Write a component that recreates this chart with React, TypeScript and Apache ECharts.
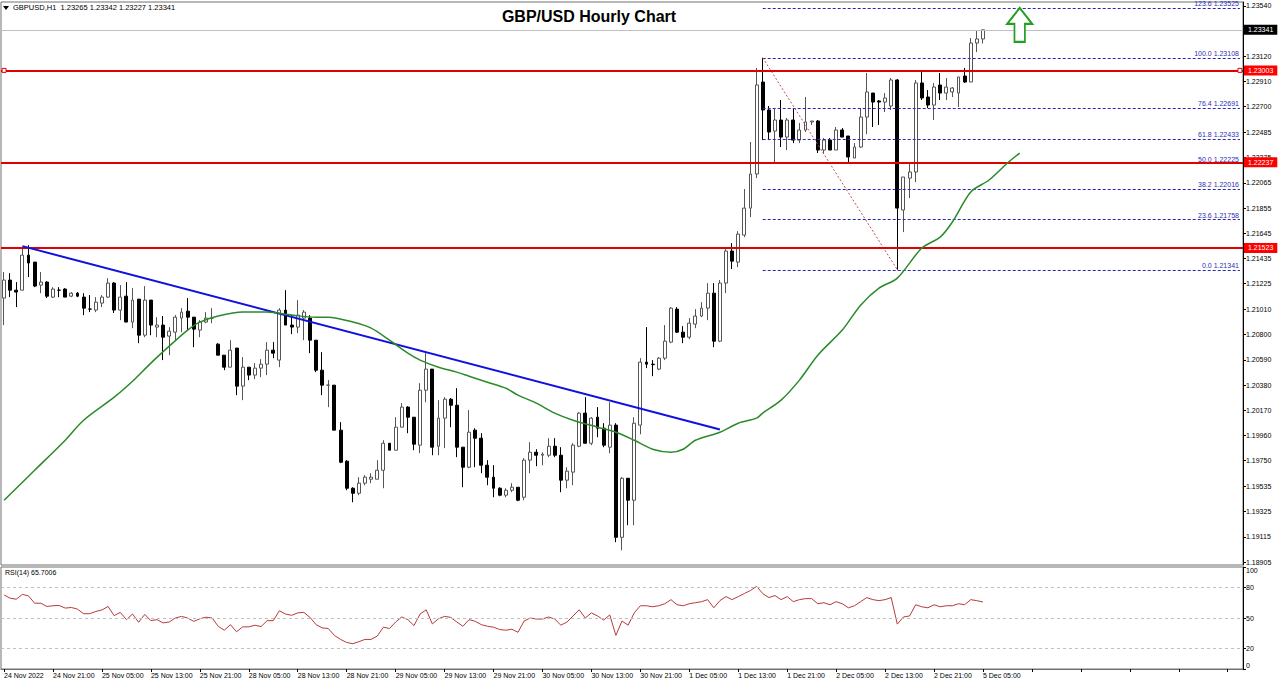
import { useEffect, useRef } from "react";
import * as echarts from "echarts";

const timeLabels = [
  "24 Nov 2022", "24 Nov 21:00", "25 Nov 05:00", "25 Nov 13:00", "25 Nov 21:00",
  "28 Nov 05:00", "28 Nov 13:00", "28 Nov 21:00", "29 Nov 05:00", "29 Nov 13:00",
  "29 Nov 21:00", "30 Nov 05:00", "30 Nov 13:00", "30 Nov 21:00", "1 Dec 05:00",
  "1 Dec 13:00", "1 Dec 21:00", "2 Dec 05:00", "2 Dec 13:00", "2 Dec 21:00", "5 Dec 05:00",
];
const totalSlots = 203;

const opens = [
  1.21105, 1.21255, 1.21171, 1.21171, 1.21463, 1.21405, 1.21213, 1.21238, 1.21113, 1.21171,
  1.21180, 1.21121, 1.21146, 1.21113, 1.21013, 1.21005, 1.21063, 1.21113, 1.21230, 1.21005,
  1.21121, 1.20905, 1.21096, 1.20796, 1.21088, 1.20863, 1.20880, 1.20788, 1.20821, 1.20938,
  1.20996, 1.20946, 1.20838, 1.20905, 1.20938, 1.20721, 1.20629, 1.20529, 1.20688, 1.20371,
  1.20529, 1.20463, 1.20521, 1.20554, 1.20671, 1.20588, 1.21005, 1.20880, 1.20863, 1.20938,
  1.20938, 1.20754, 1.20504, 1.20379, 1.20379, 1.20004, 1.19745, 1.19520, 1.19478, 1.19562,
  1.19595, 1.19595, 1.19670, 1.19895, 1.19837, 1.20029, 1.20196, 1.20112, 1.19879, 1.20337,
  1.20513, 1.19870, 1.20104, 1.20262, 1.20212, 1.19862, 1.19695, 1.20004, 1.19937, 1.19712,
  1.19612, 1.19520, 1.19462, 1.19503, 1.19528, 1.19445, 1.19754, 1.19820, 1.19795, 1.19795,
  1.19870, 1.19795, 1.19587, 1.19654, 1.19870, 1.20146, 1.19895, 1.20112, 1.20020, 1.19862,
  1.20046, 1.19111, 1.19603, 1.19420, 1.20046, 1.20571, 1.20554, 1.20513, 1.20604, 1.20738,
  1.21013, 1.20821, 1.20779, 1.20888, 1.20955, 1.21021, 1.21146, 1.20746, 1.21230, 1.21497,
  1.21405, 1.21630, 1.21855, 1.22139, 1.22906, 1.22673, 1.22497, 1.22589, 1.22447, 1.22589,
  1.22422, 1.22506, 1.22573, 1.22581, 1.22339, 1.22422, 1.22339, 1.22506, 1.22456, 1.22272,
  1.22364, 1.22614, 1.22814, 1.22748, 1.22739, 1.22706, 1.22923, 1.21839, 1.22105, 1.22156,
  1.22898, 1.22781, 1.22714, 1.22881, 1.22814, 1.22823, 1.22814, 1.22956, 1.22906, 1.23231,
  1.23265,
];
const highs = [
  1.21322, 1.21313, 1.21238, 1.21530, 1.21547, 1.21405, 1.21322, 1.21246, 1.21196, 1.21196,
  1.21188, 1.21155, 1.21155, 1.21146, 1.21130, 1.21113, 1.21130, 1.21271, 1.21238, 1.21213,
  1.21238, 1.21188, 1.21096, 1.21205, 1.21088, 1.20946, 1.20955, 1.20863, 1.20963, 1.21021,
  1.21105, 1.20946, 1.20921, 1.20988, 1.21021, 1.20729, 1.20629, 1.20754, 1.20688, 1.20613,
  1.20529, 1.20563, 1.20596, 1.20738, 1.20738, 1.21021, 1.21171, 1.20963, 1.21088, 1.21005,
  1.20963, 1.20754, 1.20654, 1.20421, 1.20379, 1.20071, 1.19754, 1.19528, 1.19612, 1.19629,
  1.19645, 1.19754, 1.19920, 1.19895, 1.20112, 1.20229, 1.20204, 1.20112, 1.20396, 1.20646,
  1.20513, 1.20254, 1.20279, 1.20271, 1.20354, 1.19862, 1.20171, 1.20020, 1.19979, 1.19754,
  1.19712, 1.19528, 1.19520, 1.19562, 1.19528, 1.19770, 1.19904, 1.19845, 1.19820, 1.19937,
  1.19937, 1.19862, 1.19695, 1.19895, 1.20154, 1.20279, 1.20112, 1.20196, 1.20062, 1.20237,
  1.20062, 1.19612, 1.19603, 1.20112, 1.20604, 1.20863, 1.20588, 1.20613, 1.20880, 1.21030,
  1.21030, 1.20871, 1.20938, 1.21013, 1.21071, 1.21230, 1.21230, 1.21255, 1.21513, 1.21563,
  1.21663, 1.22014, 1.22406, 1.23023, 1.23108, 1.22706, 1.22689, 1.22756, 1.22606, 1.22689,
  1.22564, 1.22781, 1.22581, 1.22589, 1.22439, 1.22439, 1.22531, 1.22522, 1.22456, 1.22397,
  1.22689, 1.22981, 1.22814, 1.22756, 1.22814, 1.22939, 1.22931, 1.22114, 1.22231, 1.22923,
  1.22990, 1.22839, 1.22898, 1.22981, 1.22939, 1.22864, 1.22948, 1.23023, 1.23273, 1.23331,
  1.23342,
];
const lows = [
  1.20880, 1.21113, 1.21030, 1.21171, 1.21280, 1.21196, 1.21146, 1.21105, 1.21105, 1.21113,
  1.21113, 1.21113, 1.21113, 1.20963, 1.20988, 1.20988, 1.21030, 1.21105, 1.20980, 1.20921,
  1.20905, 1.20854, 1.20729, 1.20779, 1.20796, 1.20779, 1.20588, 1.20629, 1.20754, 1.20821,
  1.20838, 1.20696, 1.20779, 1.20896, 1.20896, 1.20629, 1.20504, 1.20529, 1.20296, 1.20254,
  1.20421, 1.20429, 1.20446, 1.20463, 1.20604, 1.20529, 1.20880, 1.20804, 1.20813, 1.20754,
  1.20646, 1.20488, 1.20296, 1.20196, 1.20004, 1.19729, 1.19503, 1.19403, 1.19462, 1.19545,
  1.19562, 1.19595, 1.19520, 1.19837, 1.19837, 1.20029, 1.19979, 1.19837, 1.19812, 1.20237,
  1.19795, 1.19795, 1.19854, 1.20029, 1.19779, 1.19528, 1.19687, 1.19695, 1.19645, 1.19545,
  1.19445, 1.19453, 1.19445, 1.19487, 1.19412, 1.19420, 1.19645, 1.19704, 1.19712, 1.19779,
  1.19779, 1.19487, 1.19520, 1.19545, 1.19862, 1.19895, 1.19879, 1.19945, 1.19862, 1.19812,
  1.19070, 1.19003, 1.19212, 1.19212, 1.19970, 1.20521, 1.20454, 1.20504, 1.20588, 1.20729,
  1.20813, 1.20729, 1.20763, 1.20854, 1.20946, 1.20921, 1.20696, 1.20738, 1.21146, 1.21347,
  1.21363, 1.21613, 1.21780, 1.22105, 1.22422, 1.22422, 1.22239, 1.22364, 1.22339, 1.22397,
  1.22397, 1.22489, 1.22548, 1.22314, 1.22314, 1.22339, 1.22339, 1.22447, 1.22239, 1.22272,
  1.22356, 1.22472, 1.22531, 1.22548, 1.22656, 1.22673, 1.21341, 1.21655, 1.21939, 1.22072,
  1.22756, 1.22689, 1.22589, 1.22756, 1.22756, 1.22781, 1.22698, 1.22898, 1.22906, 1.23156,
  1.23227,
];
const closes = [
  1.21255, 1.21171, 1.21155, 1.21463, 1.21397, 1.21205, 1.21238, 1.21121, 1.21180, 1.21171,
  1.21113, 1.21146, 1.21121, 1.21021, 1.21013, 1.21071, 1.21113, 1.21230, 1.21005, 1.21113,
  1.20905, 1.21088, 1.20796, 1.21088, 1.20880, 1.20880, 1.20779, 1.20829, 1.20946, 1.20988,
  1.20946, 1.20846, 1.20905, 1.20938, 1.20938, 1.20629, 1.20529, 1.20671, 1.20371, 1.20529,
  1.20463, 1.20521, 1.20554, 1.20671, 1.20646, 1.21005, 1.20880, 1.20863, 1.20963, 1.20988,
  1.20754, 1.20504, 1.20379, 1.20379, 1.20004, 1.19737, 1.19520, 1.19478, 1.19562, 1.19612,
  1.19612, 1.19670, 1.19895, 1.19837, 1.20029, 1.20196, 1.20112, 1.19887, 1.20337, 1.20513,
  1.19862, 1.20104, 1.20262, 1.20212, 1.19862, 1.19695, 1.19987, 1.19937, 1.19712, 1.19612,
  1.19520, 1.19462, 1.19503, 1.19528, 1.19420, 1.19754, 1.19820, 1.19795, 1.19804, 1.19870,
  1.19795, 1.19587, 1.19662, 1.19879, 1.20146, 1.19895, 1.20104, 1.20020, 1.19879, 1.20046,
  1.19111, 1.19603, 1.19420, 1.20062, 1.20571, 1.20554, 1.20550, 1.20604, 1.20746, 1.21021,
  1.20821, 1.20779, 1.20896, 1.20955, 1.21021, 1.21146, 1.20746, 1.21230, 1.21497, 1.21413,
  1.21638, 1.21855, 1.22139, 1.22881, 1.22673, 1.22489, 1.22589, 1.22447, 1.22589, 1.22422,
  1.22506, 1.22573, 1.22581, 1.22339, 1.22422, 1.22339, 1.22506, 1.22447, 1.22281, 1.22364,
  1.22614, 1.22823, 1.22739, 1.22739, 1.22773, 1.22923, 1.21855, 1.22114, 1.22156, 1.22898,
  1.22773, 1.22714, 1.22864, 1.22814, 1.22864, 1.22856, 1.22948, 1.22906, 1.23231, 1.23265,
  1.23341,
];

// moving average read at sampled bars: [bar index, price]
const maPoints: [number, number][] = [
  [0, 1.19420], [5, 1.19670], [10, 1.19920], [13, 1.20087], [18, 1.20279], [21, 1.20412],
  [24, 1.20563], [27, 1.20704], [30, 1.20838], [32, 1.20905], [35, 1.20955], [39, 1.20988],
  [43, 1.20988], [47, 1.20963], [51, 1.20946], [53, 1.20946], [57, 1.20905], [60, 1.20854],
  [63, 1.20754], [66, 1.20646], [68, 1.20588], [71, 1.20529], [74, 1.20488], [76, 1.20454],
  [79, 1.20404], [82, 1.20354], [84, 1.20296], [87, 1.20229], [90, 1.20146], [93, 1.20087],
  [97, 1.20029], [100, 1.19987], [103, 1.19920], [106, 1.19845], [109, 1.19820], [111, 1.19845],
  [113, 1.19920], [117, 1.19987], [120, 1.20062], [123, 1.20104], [124, 1.20146], [127, 1.20254],
  [130, 1.20421], [133, 1.20629], [137, 1.20838], [140, 1.21046], [143, 1.21188], [146, 1.21271],
  [150, 1.21522], [153, 1.21613], [155, 1.21739], [158, 1.21989], [161, 1.22089], [164, 1.22231],
  [166, 1.22314],
];

const rsiValues = [
  72.6, 69.4, 68.4, 73.2, 71.6, 64.5, 64.5, 61.3, 62, 62.3,
  59.7, 60.3, 58.7, 54.2, 54.2, 56.4, 57.9, 61.3, 52.3, 55.5,
  48.4, 53.9, 45.8, 53.5, 47.4, 48.4, 45.2, 46.1, 50, 51.6,
  50, 46.7, 49.2, 50.8, 50, 41.9, 38, 43.5, 36.5, 41.3,
  41.3, 42.9, 41.6, 47.4, 47.4, 57.1, 53.9, 52.6, 55, 55.5,
  50.6, 43.5, 40.3, 39.7, 32.9, 29, 26, 24.8, 26.8, 29,
  29, 32.3, 41, 39.7, 46.1, 51, 48.4, 42.6, 53.9, 58,
  44.2, 49.2, 51.6, 50.6, 46.1, 41.9, 48.4, 46.8, 43.5, 41.9,
  41, 38.7, 38, 39, 36, 47, 50, 49, 49, 51,
  49, 43, 46, 52, 58, 50, 55, 52, 48, 53,
  33, 47, 43, 55, 62, 62, 61, 62, 64, 68,
  63, 62, 64, 65, 66, 68, 60, 67, 71, 68,
  71, 74, 77, 81, 74, 70, 72, 68, 71, 66,
  68, 69, 69, 64, 65, 63, 66, 64, 60, 62,
  66, 70, 68, 67, 68, 70, 44, 51, 52, 63,
  61, 60, 63, 61, 62, 62, 64, 63, 68, 67,
  65.7,
];

const priceTicks = [
  1.18905, 1.19115, 1.19325, 1.19535, 1.1975, 1.1996, 1.2017, 1.2038, 1.2059, 1.208,
  1.2101, 1.21225, 1.21435, 1.21645, 1.21855, 1.22065, 1.22275, 1.22485, 1.227, 1.2291,
  1.2312, 1.2354,
];
const rsiTicks = [0, 20, 50, 80, 100];
const rsiLevels = [20, 50, 80];
const levelLines = [1.23003, 1.22237, 1.21523];
const bidPrice = 1.23341;
const header = { symbol: "GBPUSD,H1", open: 1.23265, high: 1.23342, low: 1.23227, close: 1.23341 };
const rsiLast = 65.7006;
const fibLevels = [0, 23.6, 38.2, 50, 61.8, 76.4, 100, 123.6];
const fibPrices = [1.21341, 1.21758, 1.22016, 1.22225, 1.22433, 1.22691, 1.23108, 1.23525];
const fibHighBar = 124;
const fibLowBar = 146;
const trendStart: [number, number] = [3, 1.21538];
const trendEnd: [number, number] = [117, 1.2001];
const arrowAt: [number, number] = [166, 1.23382];

const FONT = "Liberation Sans, Arial, sans-serif";

export default function App() {
  const ref = useRef<HTMLDivElement>(null);
  useEffect(() => {
    if (!ref.current) return;
    const chart = echarts.init(ref.current, null, { renderer: "svg" });
    const cats = Array.from({ length: totalSlots }, (_, i) => String(i));
    const candles = opens.map((o, i) => [o, closes[i], lows[i], highs[i]]);
    const labelFor = (v: string) => {
      const i = Number(v);
      return i % 8 === 0 && i / 8 < timeLabels.length ? timeLabels[i / 8] : "";
    };
    const axisText = { fontFamily: FONT, fontSize: 7, color: "#000" };
    const boxLabel = (txt: string, bg: string) => ({
      show: true, position: "end", formatter: txt, distance: 1,
      color: "#fff", backgroundColor: bg, padding: [2, 4, 1, 4], fontFamily: FONT, fontSize: 7,
    });

    const emptySeries = (marks: any[], extra: any = {}) => ({
      type: "line", xAxisIndex: 0, yAxisIndex: 0, data: [], showSymbol: false, silent: true,
      markLine: { silent: true, symbol: "none", animation: false, precision: 5, data: marks, ...extra },
    });

    const levelSeries = levelLines.map((p) =>
      emptySeries([{ yAxis: p }], {
        lineStyle: { color: "#e00000", width: 2, type: "solid" },
        label: boxLabel(p.toFixed(5), "#ff0000"),
      })
    );
    const bidSeries = emptySeries([{ yAxis: bidPrice }], {
      lineStyle: { color: "#c0c0c0", width: 1, type: "solid" },
      label: boxLabel(bidPrice.toFixed(5), "#000"),
    });
    const fibSeries = fibLevels.map((lv, k) =>
      emptySeries([[{ coord: [fibHighBar, fibPrices[k]] }, { coord: [totalSlots - 1, fibPrices[k]] }]], {
        lineStyle: { color: "#2a2ab0", width: 1, type: [3, 2] },
        label: {
          show: true, position: "insideEndTop", distance: 1,
          formatter: `${lv.toFixed(1)} ${fibPrices[k].toFixed(5)}`,
          color: "#2e2eb8", fontFamily: FONT, fontSize: 7,
        },
      })
    );
    const diagSeries = emptySeries([[{ coord: [fibHighBar, highs[fibHighBar]] }, { coord: [fibLowBar, lows[fibLowBar]] }]], {
      lineStyle: { color: "#c05050", width: 1, type: [2, 2] }, label: { show: false },
    });
    const trendSeries = emptySeries([[{ coord: trendStart }, { coord: trendEnd }]], {
      lineStyle: { color: "#1010e0", width: 2, type: "solid" }, label: { show: false },
    });

    chart.setOption({
      animation: false,
      backgroundColor: "#fff",
      textStyle: { fontFamily: FONT },
      grid: [
        { left: 1, right: 37, top: 2, height: 563, show: true, borderColor: "#707070", borderWidth: 1 },
        { left: 1, right: 37, top: 567, height: 102, show: true, borderColor: "#707070", borderWidth: 1 },
      ],
      xAxis: [
        {
          type: "category", gridIndex: 0, data: cats, boundaryGap: true,
          axisLabel: { show: false }, axisTick: { show: false }, axisLine: { show: false }, splitLine: { show: false },
        },
        {
          type: "category", gridIndex: 1, data: cats, boundaryGap: true,
          axisLine: { show: true, lineStyle: { color: "#707070" } },
          axisTick: { show: true, interval: 7, alignWithLabel: true, length: 3, lineStyle: { color: "#000" } },
          axisLabel: { show: true, interval: 7, formatter: labelFor, align: "left", margin: 3, ...axisText },
          splitLine: { show: false },
        },
      ],
      yAxis: [
        {
          type: "value", gridIndex: 0, position: "right", min: 1.1888, max: 1.23573,
          axisLine: { show: true, lineStyle: { color: "#000" } },
          axisTick: { show: true, customValues: priceTicks, length: 3, lineStyle: { color: "#000" } },
          axisLabel: { show: true, customValues: priceTicks, formatter: (v: number) => v.toFixed(5), margin: 3, ...axisText },
          splitLine: { show: false },
        },
        {
          type: "value", gridIndex: 1, position: "right", min: 0, max: 100,
          axisLine: { show: true, lineStyle: { color: "#000" } },
          axisTick: { show: true, customValues: rsiTicks, length: 3, lineStyle: { color: "#000" } },
          axisLabel: {
            show: true, customValues: rsiTicks, margin: 3, ...axisText,
            verticalAlignMinLabel: "bottom", verticalAlignMaxLabel: "top",
          },
          splitLine: { show: false },
        },
      ],
      series: [
        bidSeries,
        ...fibSeries,
        diagSeries,
        ...levelSeries,
        trendSeries,
        {
          type: "candlestick", xAxisIndex: 0, yAxisIndex: 0, data: candles, barWidth: 3.4, z: 4,
          itemStyle: { color: "#fff", color0: "#000", borderColor: "#555", borderColor0: "#000", borderWidth: 1 },
          markPoint: {
            silent: true, animation: false,
            data: [
              {
                coord: arrowAt, symbol: "path://M12,0 L24,16 L17,16 L17,34 L7,34 L7,16 L0,16 Z",
                symbolSize: [25, 34], itemStyle: { color: "#fff", borderColor: "#22a022", borderWidth: 2 },
                label: { show: false },
              },
              {
                coord: [0, levelLines[0]], symbol: "rect", symbolSize: 4,
                itemStyle: { color: "#fff", borderColor: "#e00000", borderWidth: 1 }, label: { show: false },
              },
              {
                coord: [totalSlots - 1, levelLines[0]], symbol: "rect", symbolSize: 4,
                itemStyle: { color: "#fff", borderColor: "#e00000", borderWidth: 1 }, label: { show: false },
              },
            ],
          },
        },
        {
          type: "line", xAxisIndex: 0, yAxisIndex: 0, data: maPoints, showSymbol: false, symbol: "none",
          smooth: 0.3, lineStyle: { color: "#2a8a2a", width: 1.5 }, z: 5,
        },
        {
          type: "line", xAxisIndex: 1, yAxisIndex: 1, data: rsiValues, showSymbol: false, symbol: "none",
          lineStyle: { color: "#b83a3a", width: 1 },
          markLine: {
            silent: true, symbol: "none", animation: false, precision: 2,
            lineStyle: { color: "#c0c0c0", type: [3, 3], width: 1 }, label: { show: false },
            data: rsiLevels.map((v) => ({ yAxis: v })),
          },
        },
      ],
      graphic: [
        { type: "polygon", shape: { points: [[3, 6], [9, 6], [6, 10]] }, style: { fill: "#000" } },
        {
          type: "text", left: 13, top: 3,
          style: {
            text: `${header.symbol}  ${header.open.toFixed(5)} ${header.high.toFixed(5)} ${header.low.toFixed(5)} ${header.close.toFixed(5)}`,
            font: `7.5px ${FONT}`, fill: "#000",
          },
        },
        {
          type: "text", x: 589, y: 16,
          style: { text: "GBP/USD Hourly Chart", font: `bold 16px ${FONT}`, fill: "#000", align: "center", verticalAlign: "middle" },
        },
        {
          type: "text", left: 5, top: 569,
          style: { text: `RSI(14) ${rsiLast.toFixed(4)}`, font: `7px ${FONT}`, fill: "#000" },
        },
      ],
    });
    return () => chart.dispose();
  }, []);
  return <div ref={ref} style={{ position: "fixed", left: 0, top: 0, width: 1280, height: 686, background: "#fff" }} />;
}
